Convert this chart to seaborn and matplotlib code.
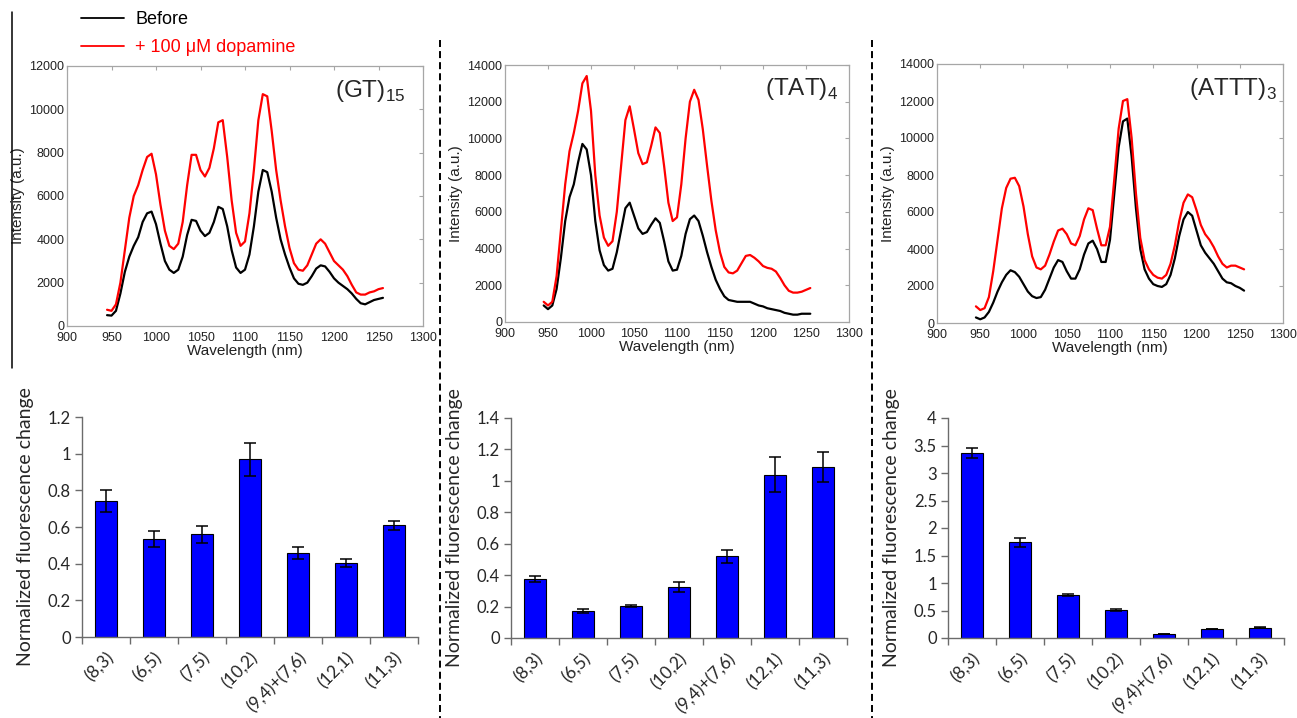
import numpy as np
import matplotlib
matplotlib.use("Agg")
import matplotlib.pyplot as plt
from matplotlib.lines import Line2D
from matplotlib.ticker import FuncFormatter, MultipleLocator
import seaborn as sns

sns.set_style("white")
plt.rcParams['font.family'] = ['Liberation Sans', 'DejaVu Sans']
plt.rcParams['mathtext.fontset'] = 'custom'
plt.rcParams['mathtext.rm'] = 'Liberation Sans'

# ---------------- data ----------------
wavelength = list(range(945, 1256, 5))

gt_before = [500, 480, 700, 1500, 2500, 3200, 3700, 4100, 4800, 5200,
             5280, 4700, 3800, 3000, 2600, 2450, 2600, 3200, 4200, 4900,
             4850, 4400, 4150, 4300, 4800, 5500, 5400, 4600, 3500, 2700,
             2450, 2600, 3300, 4600, 6200, 7200, 7100, 6200, 5000, 4000,
             3300, 2700, 2200, 1950, 1900, 2000, 2300, 2650, 2800, 2750,
             2500, 2200, 2000, 1850, 1700, 1500, 1250, 1050, 1000, 1100,
             1200, 1250, 1300]
gt_dopamine = [750, 700, 1000, 2000, 3500, 5000, 6000, 6500, 7200, 7800,
               7950, 7000, 5600, 4400, 3700, 3550, 3800, 4800, 6500, 7900,
               7900, 7200, 6900, 7300, 8200, 9400, 9500, 7800, 5800, 4300,
               3700, 3900, 5200, 7200, 9500, 10700, 10600, 9000, 7200, 5800,
               4600, 3600, 2900, 2600, 2550, 2800, 3300, 3800, 4000, 3800,
               3400, 3000, 2800, 2600, 2300, 1900, 1550, 1450, 1450, 1550,
               1600, 1700, 1750]

tat_before = [900, 700, 900, 1800, 3500, 5500, 6800, 7500, 8700, 9700,
              9400, 8000, 5500, 3900, 3100, 2800, 2900, 3800, 5000, 6200,
              6500, 5800, 5100, 4800, 4900, 5300, 5650, 5400, 4400, 3300,
              2800, 2850, 3600, 4800, 5600, 5800, 5500, 4700, 3800, 3000,
              2300, 1800, 1400, 1200, 1150, 1100, 1100, 1100, 1100, 1000,
              900, 850, 750, 700, 650, 600, 500, 450, 400, 400,
              450, 450, 450]
tat_dopamine = [1100, 900, 1100, 2500, 5000, 7500, 9300, 10300, 11500, 13000,
                13400, 11500, 8000, 5800, 4600, 4150, 4400, 6000, 8500, 11000,
                11750, 10500, 9200, 8600, 8700, 9600, 10600, 10300, 8500, 6500,
                5500, 5700, 7500, 10000, 12000, 12650, 12100, 10500, 8500, 6600,
                5000, 3800, 3000, 2700, 2650, 2800, 3200, 3600, 3650, 3500,
                3300, 3050, 2950, 2900, 2750, 2400, 2000, 1700, 1600, 1600,
                1650, 1750, 1850]

attt_before = [300, 200, 300, 600, 1100, 1700, 2200, 2600, 2850, 2750,
               2500, 2100, 1700, 1450, 1350, 1400, 1800, 2400, 3000, 3400,
               3300, 2800, 2400, 2400, 2900, 3700, 4300, 4450, 4000, 3300,
               3300, 4500, 7000, 9500, 10900, 11050, 9000, 6200, 4000, 2900,
               2400, 2100, 2000, 1950, 2100, 2600, 3500, 4700, 5600, 6000,
               5800, 5000, 4200, 3800, 3500, 3200, 2800, 2400, 2200, 2150,
               2000, 1900, 1750]
attt_dopamine = [900, 700, 800, 1400, 2800, 4500, 6200, 7300, 7800, 7850,
                 7400, 6300, 4800, 3600, 3000, 2900, 3100, 3700, 4400, 5000,
                 5100, 4800, 4300, 4200, 4700, 5600, 6200, 6100, 5100, 4200,
                 4200, 5200, 7800, 10500, 12000, 12100, 10000, 7000, 4600, 3400,
                 2900, 2600, 2450, 2400, 2600, 3200, 4200, 5500, 6500, 6950,
                 6800, 6100, 5300, 4800, 4500, 4100, 3600, 3200, 3000, 3100,
                 3100, 3000, 2900]

chiralities = ["(8,3)", "(6,5)", "(7,5)", "(10,2)", "(9,4)+(7,6)", "(12,1)", "(11,3)"]
gt_change = [0.74, 0.535, 0.56, 0.97, 0.46, 0.405, 0.61]
gt_err = [0.06, 0.045, 0.048, 0.09, 0.033, 0.022, 0.024]
tat_change = [0.375, 0.17, 0.205, 0.325, 0.52, 1.04, 1.09]
tat_err = [0.02, 0.014, 0.008, 0.03, 0.04, 0.11, 0.095]
attt_change = [3.36, 1.74, 0.78, 0.515, 0.075, 0.165, 0.185]
attt_err = [0.09, 0.08, 0.02, 0.015, 0.005, 0.005, 0.01]

titles = [("(GT)", "15"), ("(TAT)", "4"), ("(ATTT)", "3")]
spec_ymax = [12000, 14000, 14000]
bar_ymax = [1.2, 1.4, 4]
bar_ystep = [0.2, 0.2, 0.5]

# ---------------- layout ----------------
W, H = 1297, 718
fig = plt.figure(figsize=(W / 100, H / 100), dpi=100)


def add_ax(l, t, r, b):
    return fig.add_axes([l / W, 1 - b / H, (r - l) / W, (b - t) / H])


top_boxes = [(67, 66, 423, 326), (505, 65, 849, 322), (937, 64, 1283, 323)]
bot_boxes = [(82, 417, 418, 637), (511, 418, 847, 638), (948, 418, 1284, 638)]
title_x = [0.95, 0.968, 0.983]

spectra = [(gt_before, gt_dopamine), (tat_before, tat_dopamine), (attt_before, attt_dopamine)]
bars = [(gt_change, gt_err), (tat_change, tat_err), (attt_change, attt_err)]

for i in range(3):
    ax = add_ax(*top_boxes[i])
    before, dop = spectra[i]
    sns.lineplot(x=wavelength, y=before, ax=ax, color="black", lw=1.6,
                 estimator=None, sort=False)
    sns.lineplot(x=wavelength, y=dop, ax=ax, color="red", lw=1.6,
                 estimator=None, sort=False)
    ax.set_xlim(900, 1300)
    ax.set_ylim(0, spec_ymax[i])
    ax.xaxis.set_major_locator(MultipleLocator(50))
    ax.yaxis.set_major_locator(MultipleLocator(2000))
    for sp in ax.spines.values():
        sp.set_visible(True)
        sp.set_color("#a6a6a6")
        sp.set_linewidth(0.9)
    ax.tick_params(direction="in", top=True, right=True, length=3, width=0.8,
                   color="#a6a6a6", labelsize=9, labelcolor="#222222", pad=2)
    ax.tick_params(axis="x", pad=4)
    ax.set_xlabel("Wavelength (nm)", fontsize=11, labelpad=0, color="#222222")
    ax.set_ylabel("Intensity (a.u.)", fontsize=11, labelpad=3, color="#222222")
    name, sub = titles[i]
    ax.text(title_x[i], 0.905, name + r"$_{\mathregular{" + sub + "}}$",
            transform=ax.transAxes, ha="right", va="center", fontsize=17.5)

bar_font = ['Lato', 'DejaVu Sans']
for i in range(3):
    ax = add_ax(*bot_boxes[i])
    vals, errs = bars[i]
    sns.barplot(x=chiralities, y=vals, ax=ax, color="#0000FF", saturation=1,
                width=0.46, edgecolor="black", linewidth=0.8)
    ax.errorbar(range(len(chiralities)), vals, yerr=errs, fmt="none",
                ecolor="black", elinewidth=1.1, capsize=4, capthick=1.1)
    ax.set_xlim(-0.5, len(chiralities) - 0.5)
    ax.set_ylim(0, bar_ymax[i])
    ax.yaxis.set_major_locator(MultipleLocator(bar_ystep[i]))
    ax.yaxis.set_major_formatter(FuncFormatter(lambda v, p: "%g" % round(v, 2)))
    for s in ["top", "right"]:
        ax.spines[s].set_visible(False)
    for s in ["left", "bottom"]:
        ax.spines[s].set_visible(True)
        ax.spines[s].set_color("#6b6b6b")
        ax.spines[s].set_linewidth(1.0)
    ax.set_xticks(range(len(chiralities)))
    ax.set_xticks(np.arange(-0.5, len(chiralities), 1.0), minor=True)
    ax.set_xticklabels(chiralities, rotation=45, ha="right",
                       rotation_mode="anchor", family=bar_font, fontsize=12.5)
    ax.tick_params(axis="x", which="major", length=0, pad=9)
    ax.tick_params(axis="x", which="minor", direction="out", length=5,
                   width=1.0, color="#6b6b6b", bottom=True)
    ax.tick_params(axis="y", direction="out", length=5, width=1.0,
                   color="#6b6b6b", left=True, labelsize=12, pad=3)
    for lab in ax.get_yticklabels():
        lab.set_family(bar_font)
    ax.set_xlabel("")
    ax.set_ylabel("Normalized fluorescence change", family=bar_font,
                  fontsize=14, labelpad=10)

# legend
handles = [Line2D([], [], color="black", lw=1.3), Line2D([], [], color="red", lw=1.3)]
fig.legend(handles, ["Before", "+ 100 \u03bcM dopamine"], loc="upper left",
           bbox_to_anchor=(81 / W, 1 - 11 / H), frameon=False, fontsize=13,
           handlelength=2.4, handletextpad=0.6, labelspacing=0.6,
           borderpad=0, borderaxespad=0, labelcolor=["black", "red"])

# separators
fig.add_artist(Line2D([12 / W, 12 / W], [1 - 12 / H, 1 - 368 / H],
                      transform=fig.transFigure, color="black", lw=1.1))
for xs in (440, 872):
    fig.add_artist(Line2D([xs / W, xs / W], [1 - 40 / H, 0],
                          transform=fig.transFigure, color="black", lw=1.4,
                          dashes=(3.6, 2.1)))

fig.savefig("out.png", dpi=100)
